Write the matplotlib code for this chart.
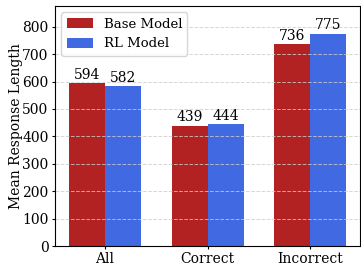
import numpy as np
import matplotlib.pyplot as plt

plt.rcParams['font.family'] = 'DejaVu Serif'

# Data
categories = ['All', 'Correct', 'Incorrect']
base_model = [594, 439, 736]
rl_model = [582, 444, 775]

x = np.arange(len(categories))
width = 0.35

fig = plt.figure(figsize=(3.61, 2.68), dpi=100)
ax = fig.add_axes([0.152, 0.082, 0.846, 0.896])

b1 = ax.bar(x - width / 2, base_model, width, color='#B22222', label='Base Model')
b2 = ax.bar(x + width / 2, rl_model, width, color='#4169E1', label='RL Model')

# value labels on top of bars
ax.bar_label(b1, fontsize=10, padding=1)
ax.bar_label(b2, fontsize=10, padding=1)

ax.set_xticks(x)
ax.set_xticklabels(categories, fontsize=10)
ax.tick_params(axis='both', labelsize=10, length=2.5, pad=2)
ax.set_ylabel('Mean Response Length', fontsize=10)
ax.yaxis.set_label_coords(-0.103, 0.5)
ax.set_ylim(0, 876)
ax.set_yticks(range(0, 900, 100))

ax.grid(axis='y', linestyle='--', color='#cccccc', linewidth=0.7, alpha=0.8)
ax.legend(loc='upper left', fontsize=9.5, handleheight=0.8)

fig.savefig('out.png', dpi=100)
